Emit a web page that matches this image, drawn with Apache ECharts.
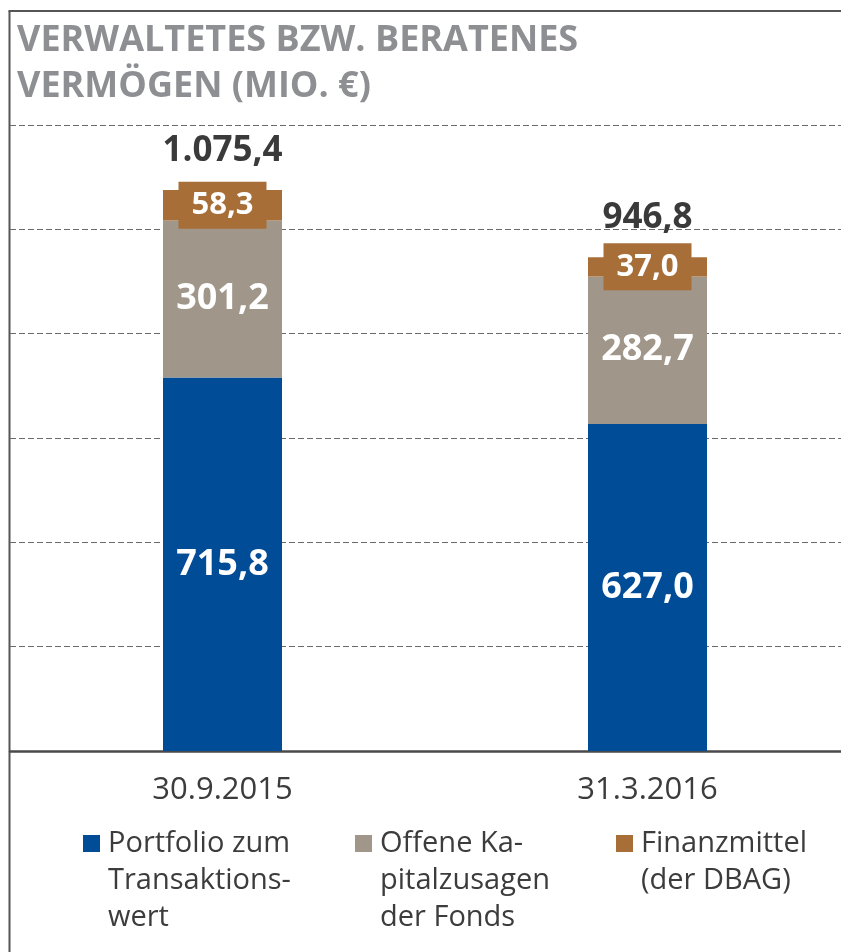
<!DOCTYPE html>
<html>
<head>
<meta charset="utf-8">
<script src="https://cdn.jsdelivr.net/npm/echarts@6/dist/echarts.min.js"></script>
<style>html,body{margin:0;padding:0;background:#fff}#c{width:841px;height:952px}</style>
</head>
<body>
<div id="c"></div>
<script>
const categories = ['30.9.2015', '31.3.2016'];
const portfolio = [715.8, 627.0];
const kapitalzusagen = [301.2, 282.7];
const finanzmittel = [58.3, 37.0];
const totals = [1075.4, 946.8];
const seriesNames = ['Portfolio zum Transaktionswert', 'Offene Kapitalzusagen der Fonds', 'Finanzmittel (der DBAG)'];
const legendLines = [
  ['Portfolio zum', 'Transaktions-', 'wert'],
  ['Offene Ka-', 'pitalzusagen', 'der Fonds'],
  ['Finanzmittel', '(der DBAG)']
];
const titleText = 'VERWALTETES BZW. BERATENES\nVERMÖGEN (MIO. €)';

const FONT = 'Open Sans';
const colors = ['#004C97', '#A0968A', '#A86E38'];
function fmt(v, d) {
  let s = v.toFixed(d);
  let [i, f] = s.split('.');
  i = i.replace(/\B(?=(\d{3})+(?!\d))/g, '.');
  return f !== undefined ? i + ',' + f : i;
}
const LH = 37;
const legendLefts = [83, 355, 616];
const legends = legendLines.map((lines, k) => {
  const n = lines.length;
  const padded = new Array(n - 1).fill(' ').concat(lines);
  return {
    left: legendLefts[k], top: 751 + (3 - n) * LH, padding: 0,
    icon: 'rect', itemWidth: 17, itemHeight: 17,
    selectedMode: false,
    data: [seriesNames[k]],
    formatter: () => padded.join('\n'),
    textStyle: { fontFamily: FONT, fontSize: 29, lineHeight: LH, color: '#3c3c3c', padding: [0, 0, 0, 3] }
  };
});

const chart = echarts.init(document.getElementById('c'), null, { renderer: 'canvas' });
const innerLabel = {
  show: true, position: 'inside', color: '#fff', fontFamily: FONT,
  fontWeight: 'bold', fontSize: 36,
  formatter: p => fmt(p.value, 1)
};
chart.setOption({
  animation: false,
  backgroundColor: '#fff',
  title: {
    text: titleText, left: 17, top: 18, padding: 0,
    textStyle: { fontFamily: FONT, fontWeight: 'bold', fontSize: 36, lineHeight: 46, color: '#8e8f92' }
  },
  legend: legends,
  grid: { left: 10, top: 125, bottom: 201, width: 850, containLabel: false, outerBoundsMode: 'none' },
  xAxis: {
    type: 'category', data: categories,
    axisLine: { lineStyle: { color: '#4a4a4a', width: 2.5 } },
    axisTick: { show: false },
    axisLabel: { fontFamily: FONT, fontSize: 31, color: '#3c3c3c', margin: 24 }
  },
  yAxis: {
    type: 'value', min: 0, max: 1200, interval: 200,
    axisLabel: { show: false }, axisLine: { show: false }, axisTick: { show: false },
    splitLine: { lineStyle: { color: '#6b6b6b', width: 1, type: [6, 3] } }
  },
  series: [
    { name: seriesNames[0], type: 'bar', stack: 'a', barWidth: 119, data: portfolio,
      itemStyle: { color: colors[0] }, label: innerLabel },
    { name: seriesNames[1], type: 'bar', stack: 'a', barWidth: 119, data: kapitalzusagen,
      itemStyle: { color: colors[1] }, label: innerLabel },
    { name: seriesNames[2], type: 'bar', stack: 'a', barWidth: 119, data: finanzmittel,
      itemStyle: { color: colors[2] },
      label: { show: true, position: 'inside', color: '#fff', fontFamily: FONT, fontWeight: 'bold',
        fontSize: 31, lineHeight: 27, backgroundColor: colors[2], width: 88, align: 'center',
        padding: [10, 0, 10, 0], formatter: p => fmt(p.value, 1) } },
    { name: 'Summe', type: 'bar', stack: 'a', barWidth: 119, data: totals.map(() => 0),
      itemStyle: { color: 'rgba(0,0,0,0)' },
      label: { show: true, position: 'top', distance: 22, color: '#3a3a3a', fontFamily: FONT,
        fontWeight: 'bold', fontSize: 35, formatter: p => fmt(totals[p.dataIndex], 1) } }
  ],
  graphic: [
    { type: 'line', shape: { x1: 9.5, y1: 11, x2: 9.5, y2: 952 }, style: { stroke: '#555', lineWidth: 2 }, silent: true },
    { type: 'line', shape: { x1: 8.5, y1: 11, x2: 841, y2: 11 }, style: { stroke: '#555', lineWidth: 2 }, silent: true }
  ]
});
</script>
</body>
</html>
